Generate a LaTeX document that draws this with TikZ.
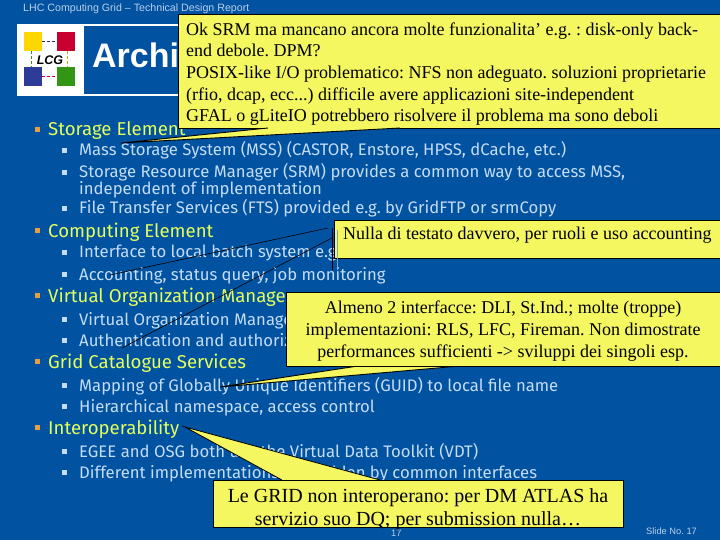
\documentclass[tikz,border=0pt]{standalone}
\usepackage{fontspec}
\setmainfont{Liberation Serif}
\newfontfamily\headfont{Liberation Sans}
\newfontfamily\slidefont{Fira Sans}
\usepackage{xcolor}
\frenchspacing
\definecolor{slidebg}{RGB}{1,82,160}
\definecolor{headtxt}{RGB}{228,255,92}
\definecolor{subtxt}{RGB}{196,220,245}
\definecolor{bulletor}{RGB}{226,160,70}
\definecolor{notefill}{RGB}{245,247,96}
\definecolor{footgrey}{RGB}{186,208,235}
\definecolor{logoy}{RGB}{255,215,0}
\definecolor{logor}{RGB}{200,0,50}
\definecolor{logob}{RGB}{45,60,150}
\definecolor{logog}{RGB}{50,150,20}
\tikzset{
	heading/.style={anchor=base west, inner sep=0pt, text=headtxt, font=\slidefont\fontsize{18.6}{18.6}\selectfont},
	subline/.style={anchor=base west, inner sep=0pt, text=subtxt, font=\slidefont\fontsize{16.7}{16.7}\selectfont},
	notebox/.style={draw=black, line width=0.9pt, fill=notefill},
	notetxt/.style={anchor=base, inner sep=0pt, text=black, font=\fontsize{18}{18}\selectfont},
	foot/.style={anchor=base west, inner sep=0pt, text=footgrey, font=\headfont\fontsize{9.3}{9.3}\selectfont},
	logosq/.style={minimum width=18.5pt, minimum height=19pt, inner sep=0pt}
}
\begin{document}
\begin{tikzpicture}[x=1pt,y=-1pt]
	\fill[slidebg] (0,0) rectangle (720,540);
	\useasboundingbox (0,0) rectangle (720,540);
	% banner and logo
	\fill[white] (17,24) rectangle (400,96);
	\fill[slidebg] (84,26) rectangle (400,94);
	\draw[densely dashed, color=logog, line width=1pt] (31,51) -- (31,67);
	\draw[densely dashed, color=logoy!80!black, line width=1pt] (67,51) -- (67,67);
	\node[logosq, fill=logoy] (sqy) at (33,41.5) {};
	\node[logosq, fill=logor] (sqr) at (66,41.5) {};
	\node[logosq, fill=logob] (sqb) at (33,77) {};
	\node[logosq, fill=logog] (sqg) at (66,77) {};
	\draw[densely dashed, color=logob!70!black, line width=1pt] (sqy) -- (sqr);
	\draw[densely dashed, color=logor, line width=1pt] (sqb) -- (sqg);
	\node[inner sep=0pt, font=\headfont\bfseries\itshape\fontsize{12.5}{12.5}\selectfont] (lcg) at (50,60) {LCG};
	\node[anchor=base west, inner sep=0pt, text=white, font=\headfont\bfseries\fontsize{34}{34}\selectfont] (title) at (92,68) {Archit};
	\node[anchor=base west, inner sep=0pt, text=footgrey, font=\headfont\fontsize{10.65}{10.65}\selectfont] (head) at (23,12) {LHC Computing Grid – Technical Design Report};
	% slide text
	\foreach \name/\ypos/\txt in {h1/136/Storage Element, h2/237/Computing Element, h3/302/Virtual Organization Manage, h4/368/Grid Catalogue Services, h5/434/Interoperability}{
		\node[heading] (\name) at (48,\ypos) {\txt};
		\fill[bulletor] (35,\ypos-4) rectangle +(5,-5);
	}
	\foreach \name/\ypos/\txt in {s1/156/{Mass Storage System (MSS) (CASTOR, Enstore, HPSS, dCache, etc.)}, s2/178/{Storage Resource Manager (SRM) provides a common way to access MSS,}, s4/214/{File Transfer Services (FTS) provided e.g. by GridFTP or srmCopy}, s5/258/{Interface to local batch system e.g.}, s6/280/{Accounting, status query, job monitoring}, s7/325/{Virtual Organization Manage}, s8/346/{Authentication and authoriz}, s9/391/{Mapping of Globally Unique Identifiers (GUID) to local file name}, s10/412/{Hierarchical namespace, access control}, s11/457/{EGEE and OSG both use the Virtual Data Toolkit (VDT)}, s12/478/{Different implementations are hidden by common interfaces}}{
		\node[subline] (\name) at (79,\ypos) {\txt};
		\fill[subtxt] (62,\ypos-3) rectangle +(5,-5);
	}
	\node[subline] (s3) at (79,195) {independent of implementation};
	\node[foot] (pageno) at (391,536) {17};
	\node[foot] (slideno) at (646,534) {Slide No. 17};
	% callout 1
	\node[notebox, minimum width=543pt, minimum height=114pt, inner sep=0pt] (note1) at (449.5,71) {};
	\coordinate (tip1) at (121,143);
	\fill[notefill] (268,128) -- (tip1) -- (400,128) -- cycle;
	\draw[line width=0.9pt] (268,128) -- (tip1) -- (400,128);
	\node[notetxt, anchor=base west] (n1a) at (186,36) {Ok SRM ma mancano ancora molte funzionalita' e.g. : disk-only back-};
	\node[notetxt, anchor=base west] (n1b) at (186,57) {end debole. DPM?};
	\node[notetxt, anchor=base west] (n1c) at (186,79) {POSIX-like I/O problematico: NFS non adeguato. soluzioni proprietarie};
	\node[notetxt, anchor=base west] (n1d) at (186,101) {(rfio, dcap, ecc...) difficile avere applicazioni site-independent};
	\node[notetxt, anchor=base west] (n1e) at (186,122) {GFAL o gLiteIO potrebbero risolvere il problema ma sono deboli};
	% callout 2
	\coordinate (tip2a) at (110,275);
	\coordinate (tip2b) at (122,348);
	\draw[line width=0.6pt] (tip2a) -- (328,228);
	\draw[line width=0.6pt] (tip2b) -- (332,238);
	\draw[line width=0.8pt] (332,228) -- (332,270);
	\node[notebox, minimum width=387pt, minimum height=38pt, inner sep=0pt] (note2) at (527.5,239) {};
	\draw[line width=0.5pt, color=subtxt!60!slidebg] (337,230) -- (337,270);
	\node[notetxt, anchor=base west] (n2a) at (343,240) {Nulla di testato davvero, per ruoli e uso accounting};
	% callout 3
	\coordinate (tip3) at (220,387);
	\fill[notefill] (358,366) -- (tip3) -- (460,366) -- cycle;
	\draw[line width=0.9pt] (358,366) -- (tip3) -- (460,366);
	\node[notebox, minimum width=435pt, minimum height=74pt, inner sep=0pt] (note3) at (503.5,329) {};
	\node[notetxt] (n3a) at (503,313) {Almeno 2 interfacce: DLI, St.Ind.; molte (troppe)};
	\node[notetxt] (n3b) at (503,335) {implementazioni: RLS, LFC, Fireman. Non dimostrate};
	\node[notetxt] (n3c) at (503,357) {performances sufficienti -> sviluppi dei singoli esp.};
	% callout 4
	\coordinate (tip4) at (185,427);
	\fill[notefill] (282,480) -- (tip4) -- (380,480) -- cycle;
	\draw[line width=0.8pt] (282,480) -- (tip4) -- (380,480);
	\node[notebox, minimum width=410pt, minimum height=47pt, inner sep=0pt] (note4) at (418,503.5) {};
	\node[notetxt, font=\fontsize{20}{20}\selectfont] (n4a) at (418,502) {Le GRID non interoperano: per DM ATLAS ha};
	\node[notetxt, font=\fontsize{20}{20}\selectfont] (n4b) at (418,525) {servizio suo DQ; per submission nulla\ldots};
\end{tikzpicture}
\end{document}
